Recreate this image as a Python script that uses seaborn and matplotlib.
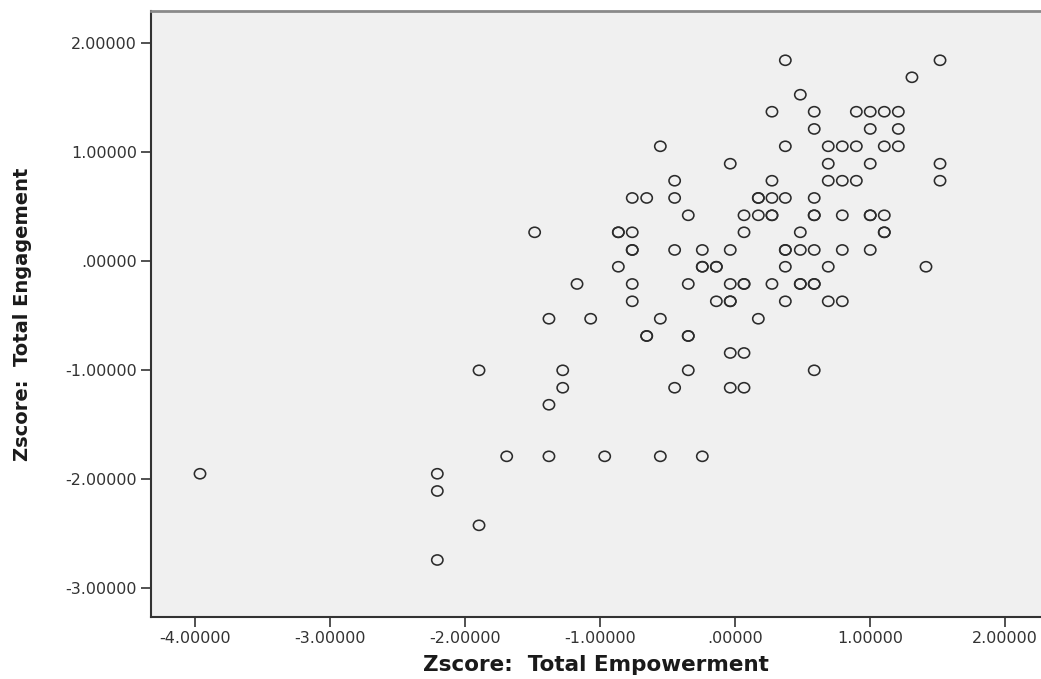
# Scatter of z-scores: Total Empowerment vs Total Engagement (SPSS style)
import pandas as pd
import numpy as np
import seaborn as sns
import matplotlib
matplotlib.use("Agg")
import matplotlib.pyplot as plt
from matplotlib.ticker import FuncFormatter, MultipleLocator
from matplotlib.path import Path
from matplotlib.transforms import Affine2D

''' ------------------- DATA ----------------------------'''
# values, row by row (duplicates = overlapping circles)
empowerment = [
    0.373, 1.519,
    1.311,
    0.484,
    0.274, 0.587, 0.899, 1.002, 1.106, 1.210,
    0.587, 1.002, 1.210,
    -0.553, 0.373, 0.691, 0.795, 0.899, 1.106, 1.210,
    -0.035, 0.691, 1.002, 1.519,
    -0.447, 0.274, 0.691, 0.795, 0.899, 1.519,
    -0.761, -0.654, -0.447, 0.173, 0.173, 0.274, 0.373, 0.587,
    -0.346, 0.067, 0.173, 0.274, 0.274, 0.587, 0.587, 0.795, 1.002, 1.002, 1.106,
    -1.484, -0.864, -0.864, -0.761, 0.067, 0.484, 1.106, 1.106,
    -0.761, -0.761, -0.447, -0.242, -0.035, 0.373, 0.373, 0.484, 0.587, 0.795, 1.002,
    -0.864, -0.242, -0.242, -0.138, -0.138, 0.373, 0.691, 1.415,
    -1.170, -0.761, -0.346, -0.035, 0.067, 0.067, 0.274, 0.484, 0.484, 0.587, 0.587,
    -0.761, -0.138, -0.035, -0.035, 0.373, 0.691, 0.795,
    -1.378, -1.069, -0.553, 0.173,
    -0.654, -0.654, -0.346, -0.346,
    -0.035, 0.067,
    -1.896, -1.276, -0.346, 0.587,
    -1.276, -0.447, -0.035, 0.067,
    -1.378,
    -1.691, -1.378, -0.965, -0.553, -0.242,
    -3.963, -2.205,
    -2.205,
    -1.896,
    -2.205,
]

engagement = (
    [1.844] * 2 + [1.688] * 1 + [1.528] * 1 + [1.372] * 6 + [1.214] * 3
    + [1.055] * 7 + [0.895] * 4 + [0.739] * 6 + [0.581] * 8 + [0.422] * 11
    + [0.266] * 8 + [0.104] * 11 + [-0.050] * 8 + [-0.208] * 11
    + [-0.367] * 7 + [-0.527] * 4 + [-0.685] * 4 + [-0.841] * 2
    + [-1.000] * 4 + [-1.160] * 4 + [-1.316] * 1 + [-1.789] * 5
    + [-1.949] * 2 + [-2.107] * 1 + [-2.422] * 1 + [-2.740] * 1
)

df = pd.DataFrame({"Zscore:  Total Empowerment": empowerment,
                   "Zscore:  Total Engagement": engagement})

''' ------------------- PLOT ----------------------------'''
sns.set_style("white")
plt.rcParams["font.family"] = ["DejaVu Sans"]

fig = plt.figure(figsize=(10.41, 6.79), dpi=100)
ax = fig.add_axes([151 / 1041, 1 - 617 / 679, 1 - 151 / 1041, (617 - 11) / 679])
ax.set_facecolor("#f0f0f0")

# SPSS draws slightly flattened open circles
oval = Path.unit_circle().transformed(Affine2D().scale(1.0, 0.9))

sns.scatterplot(data=df, x="Zscore:  Total Empowerment", y="Zscore:  Total Engagement",
                ax=ax, marker=oval, s=66, facecolor="none", edgecolor="#2b2b2b",
                linewidth=1.15)

ax.set_xlim(-4.326, 2.267)
ax.set_ylim(-3.263, 2.296)
ax.xaxis.set_major_locator(MultipleLocator(1.0))
ax.yaxis.set_major_locator(MultipleLocator(1.0))


def spss_fmt(v, pos):
    s = "%.5f" % v
    if s in ("0.00000", "-0.00000"):
        return ".00000"
    return s


ax.xaxis.set_major_formatter(FuncFormatter(spss_fmt))
ax.yaxis.set_major_formatter(FuncFormatter(spss_fmt))
ax.tick_params(axis="both", direction="out", length=7, width=1.2, color="#333333",
               labelsize=11.5, labelcolor="#333333", pad=3)
ax.tick_params(bottom=True, left=True)

for side in ["left", "bottom"]:
    ax.spines[side].set_color("#333333")
    ax.spines[side].set_linewidth(1.5)
ax.spines["top"].set_color("#8a8a8a")
ax.spines["top"].set_linewidth(2)
ax.spines["right"].set_visible(False)

ax.set_xlabel("Zscore:  Total Empowerment", fontsize=15.5, fontweight="bold",
              color="#1a1a1a")
ax.set_ylabel("Zscore:  Total Engagement", fontsize=14, fontweight="bold",
              color="#1a1a1a")
ax.xaxis.set_label_coords(0.5, -0.062)
ax.yaxis.set_label_coords(-0.1337, 0.5)

fig.savefig("out.png", dpi=100)
